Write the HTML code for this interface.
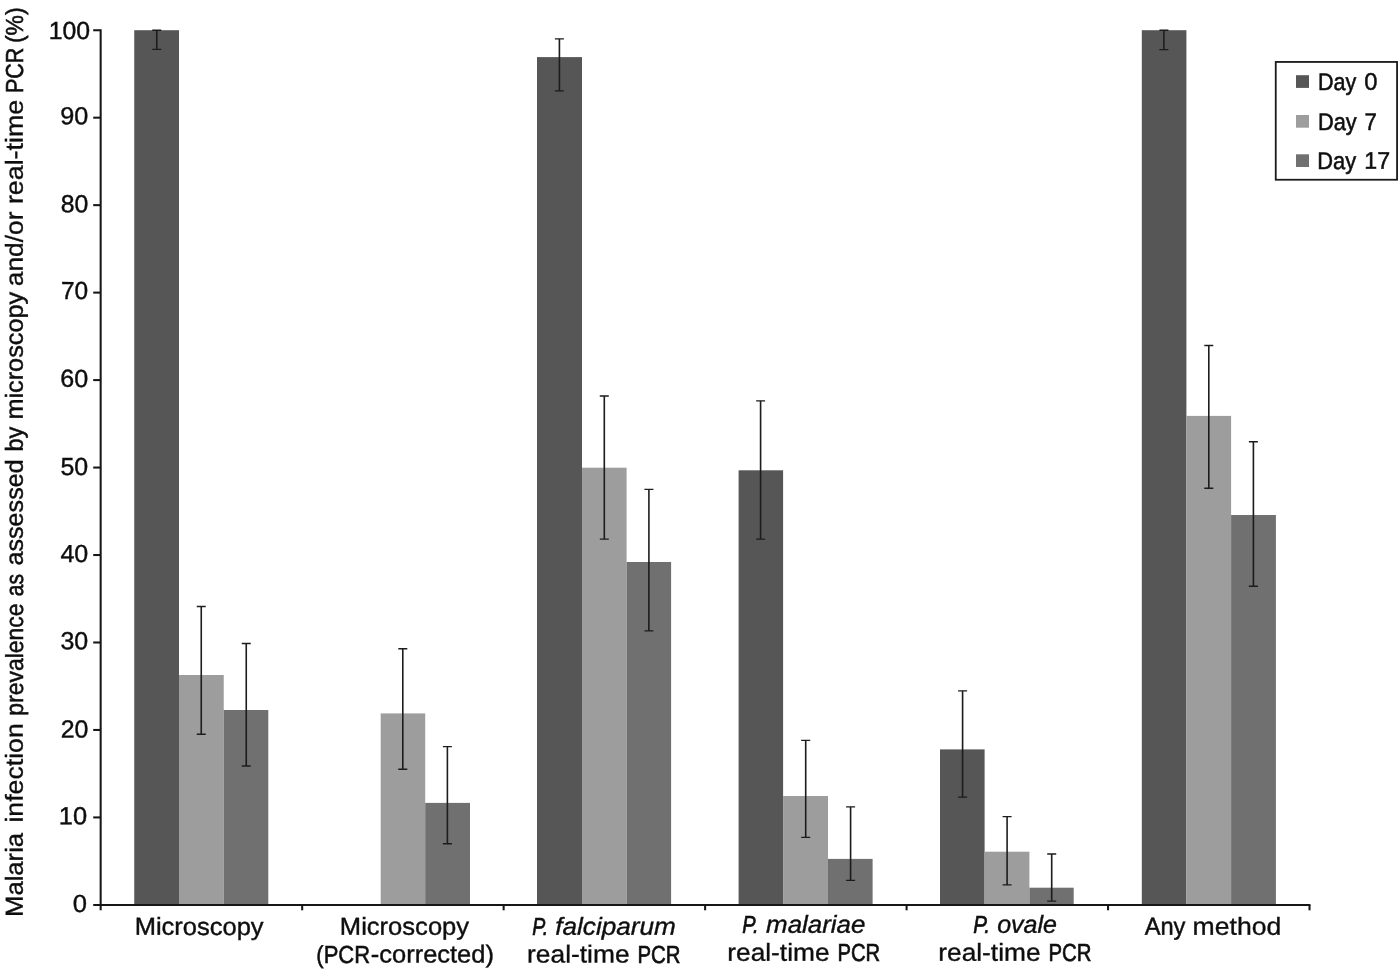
<!DOCTYPE html>
<html><head><meta charset="utf-8"><title>Chart</title>
<style>
html,body{margin:0;padding:0;background:#fff;}
body{width:1400px;height:969px;overflow:hidden;}
svg{display:block;}
text{font-family:"Liberation Sans",sans-serif;fill:#111;stroke:#111;text-rendering:geometricPrecision;}
</style></head><body>
<svg width="1400" height="969" viewBox="0 0 1400 969">
<defs><filter id="soft" x="-2%" y="-2%" width="104%" height="104%"><feGaussianBlur stdDeviation="0.45"/></filter></defs>
<rect x="0" y="0" width="1400" height="969" fill="#ffffff"/>
<g filter="url(#soft)">
<rect x="134.25" y="30.2" width="44.75" height="874.70" fill="#565656"/>
<rect x="179" y="675" width="44.75" height="229.90" fill="#9d9d9d"/>
<rect x="223.75" y="710" width="44.55" height="194.90" fill="#6f6f6f"/>
<rect x="380.7" y="713.4" width="44.50" height="191.50" fill="#9d9d9d"/>
<rect x="425.2" y="802.9" width="44.80" height="102.00" fill="#6f6f6f"/>
<rect x="537" y="57.1" width="45.00" height="847.80" fill="#565656"/>
<rect x="582" y="467.7" width="44.60" height="437.20" fill="#9d9d9d"/>
<rect x="626.6" y="562" width="44.50" height="342.90" fill="#6f6f6f"/>
<rect x="738.6" y="470.3" width="44.50" height="434.60" fill="#565656"/>
<rect x="783.1" y="796" width="44.90" height="108.90" fill="#9d9d9d"/>
<rect x="828" y="858.9" width="44.60" height="46.00" fill="#6f6f6f"/>
<rect x="940" y="749.4" width="44.60" height="155.50" fill="#565656"/>
<rect x="984.6" y="851.7" width="44.80" height="53.20" fill="#9d9d9d"/>
<rect x="1029.4" y="887.7" width="44.30" height="17.20" fill="#6f6f6f"/>
<rect x="1141.8" y="30.2" width="44.60" height="874.70" fill="#565656"/>
<rect x="1186.4" y="415.9" width="44.70" height="489.00" fill="#9d9d9d"/>
<rect x="1231.1" y="515" width="44.80" height="389.90" fill="#6f6f6f"/>
<g stroke="#161616" stroke-width="2.05" fill="none">
<path d="M93.2 30.2H100.65V910.3"/>
<line x1="93.2" y1="905.05" x2="1310.4" y2="905.05"/>
<line x1="93.2" y1="117.67" x2="100.65" y2="117.67"/>
<line x1="93.2" y1="205.14" x2="100.65" y2="205.14"/>
<line x1="93.2" y1="292.61" x2="100.65" y2="292.61"/>
<line x1="93.2" y1="380.08" x2="100.65" y2="380.08"/>
<line x1="93.2" y1="467.55" x2="100.65" y2="467.55"/>
<line x1="93.2" y1="555.02" x2="100.65" y2="555.02"/>
<line x1="93.2" y1="642.49" x2="100.65" y2="642.49"/>
<line x1="93.2" y1="729.96" x2="100.65" y2="729.96"/>
<line x1="93.2" y1="817.43" x2="100.65" y2="817.43"/>
<line x1="302.17" y1="905.05" x2="302.17" y2="910.3"/>
<line x1="503.64" y1="905.05" x2="503.64" y2="910.3"/>
<line x1="705.11" y1="905.05" x2="705.11" y2="910.3"/>
<line x1="906.58" y1="905.05" x2="906.58" y2="910.3"/>
<line x1="1108.05" y1="905.05" x2="1108.05" y2="910.3"/>
<line x1="1309.52" y1="905.05" x2="1309.52" y2="910.3"/>
</g>
<g stroke="#1c1c1c" stroke-width="1.35" fill="none">
<path d="M156.75 30.2V49.4" stroke-width="1.6"/><path d="M152.25 30.2H161.25M152.25 49.4H161.25"/>
<path d="M201.25 606.5V734.25" stroke-width="1.6"/><path d="M196.75 606.5H205.75M196.75 734.25H205.75"/>
<path d="M246.25 643.5V766" stroke-width="1.6"/><path d="M241.75 643.5H250.75M241.75 766H250.75"/>
<path d="M402.8 648.7V769.2" stroke-width="1.6"/><path d="M398.3 648.7H407.3M398.3 769.2H407.3"/>
<path d="M447.4 746.6V843.7" stroke-width="1.6"/><path d="M442.9 746.6H451.9M442.9 843.7H451.9"/>
<path d="M559.4 38.9V90.9" stroke-width="1.6"/><path d="M554.9 38.9H563.9M554.9 90.9H563.9"/>
<path d="M604.3 396V539.1" stroke-width="1.6"/><path d="M599.8 396H608.8M599.8 539.1H608.8"/>
<path d="M648.9 489.4V630.9" stroke-width="1.6"/><path d="M644.4 489.4H653.4M644.4 630.9H653.4"/>
<path d="M760.6 400.9V539.1" stroke-width="1.6"/><path d="M756.1 400.9H765.1M756.1 539.1H765.1"/>
<path d="M805.7 740.3V837.4" stroke-width="1.6"/><path d="M801.2 740.3H810.2M801.2 837.4H810.2"/>
<path d="M850.6 806.9V880.3" stroke-width="1.6"/><path d="M846.1 806.9H855.1M846.1 880.3H855.1"/>
<path d="M962.6 690.9V797.1" stroke-width="1.6"/><path d="M958.1 690.9H967.1M958.1 797.1H967.1"/>
<path d="M1007.1 816.6V884.9" stroke-width="1.6"/><path d="M1002.6 816.6H1011.6M1002.6 884.9H1011.6"/>
<path d="M1051.7 854V901.1" stroke-width="1.6"/><path d="M1047.2 854H1056.2M1047.2 901.1H1056.2"/>
<path d="M1163.9 30.2V49.6" stroke-width="1.6"/><path d="M1159.4 30.2H1168.4M1159.4 49.6H1168.4"/>
<path d="M1208.8 345.5V488.2" stroke-width="1.6"/><path d="M1204.3 345.5H1213.3M1204.3 488.2H1213.3"/>
<path d="M1253.4 441.7V586.2" stroke-width="1.6"/><path d="M1248.9 441.7H1257.9M1248.9 586.2H1257.9"/>
</g>
<rect x="1275.75" y="61.95" width="121.3" height="117.8" fill="#fff" stroke="#1a1a1a" stroke-width="1.8"/>
<rect x="1296" y="75.2" width="13" height="12.7" fill="#565656"/>
<rect x="1296" y="115" width="13" height="12.7" fill="#9d9d9d"/>
<rect x="1296" y="154.3" width="13" height="12.7" fill="#6f6f6f"/>
<text transform="translate(48.81,39.11) rotate(0.03)" font-size="24.6"><tspan x="0.00" y="0.00" stroke-width="0.46" textLength="41.31" lengthAdjust="spacingAndGlyphs">100</tspan></text>
<text transform="translate(60.26,124.25) rotate(0.03)" font-size="24.6"><tspan x="0.00" y="0.00" stroke-width="0.41" textLength="28.04" lengthAdjust="spacingAndGlyphs">90</tspan></text>
<text transform="translate(60.67,212.20) rotate(0.03)" font-size="24.6"><tspan x="0.00" y="0.00" stroke-width="0.43" textLength="27.57" lengthAdjust="spacingAndGlyphs">80</tspan></text>
<text transform="translate(60.95,299.03) rotate(0.03)" font-size="24.6"><tspan x="0.00" y="0.00" stroke-width="0.43" textLength="27.21" lengthAdjust="spacingAndGlyphs">70</tspan></text>
<text transform="translate(60.36,386.87) rotate(0.03)" font-size="24.6"><tspan x="0.00" y="0.00" stroke-width="0.43" textLength="27.93" lengthAdjust="spacingAndGlyphs">60</tspan></text>
<text transform="translate(60.45,474.94) rotate(0.03)" font-size="24.6"><tspan x="0.00" y="0.00" stroke-width="0.43" textLength="27.72" lengthAdjust="spacingAndGlyphs">50</tspan></text>
<text transform="translate(60.45,561.92) rotate(0.03)" font-size="24.6"><tspan x="0.00" y="0.00" stroke-width="0.41" textLength="27.83" lengthAdjust="spacingAndGlyphs">40</tspan></text>
<text transform="translate(60.47,649.22) rotate(0.03)" font-size="24.6"><tspan x="0.00" y="0.00" stroke-width="0.42" textLength="27.78" lengthAdjust="spacingAndGlyphs">30</tspan></text>
<text transform="translate(60.64,737.44) rotate(0.03)" font-size="24.6"><tspan x="0.00" y="0.00" stroke-width="0.43" textLength="27.67" lengthAdjust="spacingAndGlyphs">20</tspan></text>
<text transform="translate(58.84,824.24) rotate(0.03)" font-size="24.6"><tspan x="0.00" y="0.00" stroke-width="0.44" textLength="28.26" lengthAdjust="spacingAndGlyphs">10</tspan></text>
<text transform="translate(72.83,912.11) rotate(0.03)" font-size="24.6"><tspan x="0.00" y="0.00" stroke-width="0.39" textLength="14.22" lengthAdjust="spacingAndGlyphs">0</tspan></text>
<text transform="translate(134.65,934.85) rotate(0.03)" font-size="24.6"><tspan x="0.00" y="0.00" stroke-width="0.41" textLength="128.98" lengthAdjust="spacingAndGlyphs">Microscopy</tspan></text>
<text transform="translate(339.85,934.80) rotate(0.03)" font-size="24.6"><tspan x="0.00" y="0.00" stroke-width="0.4" textLength="129.25" lengthAdjust="spacingAndGlyphs">Microscopy</tspan></text>
<text transform="translate(316.31,962.50) rotate(0.03)" font-size="24.6"><tspan x="0.00" y="0.00" stroke-width="0.58" textLength="53.75" lengthAdjust="spacingAndGlyphs">(PCR</tspan> <tspan x="54.52" y="0.00" stroke-width="0.41" textLength="123.06" lengthAdjust="spacingAndGlyphs">-corrected)</tspan></text>
<text transform="translate(532.19,934.80) rotate(0.03)" font-size="24.6" font-style="italic"><tspan x="0.00" y="0.00" stroke-width="0.69" textLength="15.95" lengthAdjust="spacingAndGlyphs">P.</tspan> <tspan x="23.00" y="0.00" stroke-width="0.37" textLength="120.74" lengthAdjust="spacingAndGlyphs">falciparum</tspan></text>
<text transform="translate(527.06,962.50) rotate(0.03)" font-size="24.6"><tspan x="0.00" y="0.00" stroke-width="0.36" textLength="102.52" lengthAdjust="spacingAndGlyphs">real-time</tspan> <tspan x="110.37" y="0.00" stroke-width="0.67" textLength="42.96" lengthAdjust="spacingAndGlyphs">PCR</tspan></text>
<text transform="translate(742.18,932.80) rotate(0.03)" font-size="24.6" font-style="italic"><tspan x="0.00" y="0.00" stroke-width="0.67" textLength="16.33" lengthAdjust="spacingAndGlyphs">P.</tspan> <tspan x="23.89" y="0.00" stroke-width="0.39" textLength="99.32" lengthAdjust="spacingAndGlyphs">malariae</tspan></text>
<text transform="translate(727.27,960.70) rotate(0.03)" font-size="24.6"><tspan x="0.00" y="0.00" stroke-width="0.37" textLength="102.27" lengthAdjust="spacingAndGlyphs">real-time</tspan> <tspan x="110.15" y="0.00" stroke-width="0.66" textLength="42.65" lengthAdjust="spacingAndGlyphs">PCR</tspan></text>
<text transform="translate(973.27,932.80) rotate(0.03)" font-size="24.6" font-style="italic"><tspan x="0.00" y="0.00" stroke-width="0.65" textLength="16.81" lengthAdjust="spacingAndGlyphs">P.</tspan> <tspan x="23.86" y="0.00" stroke-width="0.42" textLength="59.77" lengthAdjust="spacingAndGlyphs">ovale</tspan></text>
<text transform="translate(938.27,960.70) rotate(0.03)" font-size="24.6"><tspan x="0.00" y="0.00" stroke-width="0.37" textLength="102.27" lengthAdjust="spacingAndGlyphs">real-time</tspan> <tspan x="110.16" y="0.00" stroke-width="0.67" textLength="42.96" lengthAdjust="spacingAndGlyphs">PCR</tspan></text>
<text transform="translate(1144.70,934.80) rotate(0.03)" font-size="24.6"><tspan x="0.00" y="0.00" stroke-width="0.49" textLength="40.74" lengthAdjust="spacingAndGlyphs">Any</tspan> <tspan x="47.91" y="0.00" stroke-width="0.35" textLength="88.78" lengthAdjust="spacingAndGlyphs">method</tspan></text>
<text transform="translate(1318.07,89.80) rotate(0.03)" font-size="24.0"><tspan x="0.00" y="0.00" stroke-width="0.57" textLength="38.31" lengthAdjust="spacingAndGlyphs">Day</tspan> <tspan x="46.11" y="0.00" stroke-width="0.48" textLength="13.21" lengthAdjust="spacingAndGlyphs">0</tspan></text>
<text transform="translate(1317.95,129.60) rotate(0.03)" font-size="24.0"><tspan x="0.00" y="0.00" stroke-width="0.58" textLength="38.72" lengthAdjust="spacingAndGlyphs">Day</tspan> <tspan x="46.61" y="0.00" stroke-width="0.54" textLength="12.36" lengthAdjust="spacingAndGlyphs">7</tspan></text>
<text transform="translate(1317.29,168.70) rotate(0.03)" font-size="24.0"><tspan x="0.00" y="0.00" stroke-width="0.56" textLength="38.87" lengthAdjust="spacingAndGlyphs">Day</tspan> <tspan x="46.96" y="0.00" stroke-width="0.5" textLength="25.79" lengthAdjust="spacingAndGlyphs">17</tspan></text>
<g><text transform="translate(22.75,916.93) rotate(-89.97)" font-size="24.6" stroke-width="0.39" textLength="84.03" lengthAdjust="spacingAndGlyphs">Malaria</text> <text transform="translate(22.75,822.55) rotate(-89.97)" font-size="24.6" stroke-width="0.35" textLength="99.33" lengthAdjust="spacingAndGlyphs">infection</text> <text transform="translate(22.75,715.63) rotate(-89.97)" font-size="24.6" stroke-width="0.53" textLength="112.21" lengthAdjust="spacingAndGlyphs">prevalence</text> <text transform="translate(22.75,596.24) rotate(-89.97)" font-size="24.6" stroke-width="0.63" textLength="22.26" lengthAdjust="spacingAndGlyphs">as</text> <text transform="translate(22.75,565.51) rotate(-89.97)" font-size="24.6" stroke-width="0.43" textLength="106.17" lengthAdjust="spacingAndGlyphs">assessed</text> <text transform="translate(22.75,451.58) rotate(-89.97)" font-size="24.6" stroke-width="0.5" textLength="24.76" lengthAdjust="spacingAndGlyphs">by</text> <text transform="translate(22.75,419.62) rotate(-89.97)" font-size="24.6" stroke-width="0.42" textLength="127.81" lengthAdjust="spacingAndGlyphs">microscopy</text> <text transform="translate(22.75,286.19) rotate(-89.97)" font-size="24.6" stroke-width="0.36" textLength="74.69" lengthAdjust="spacingAndGlyphs">and/or</text> <text transform="translate(22.75,204.09) rotate(-89.97)" font-size="24.6" stroke-width="0.34" textLength="104.21" lengthAdjust="spacingAndGlyphs">real-time</text> <text transform="translate(22.75,93.04) rotate(-89.97)" font-size="24.6" stroke-width="0.61" textLength="45.30" lengthAdjust="spacingAndGlyphs">PCR</text> <text transform="translate(22.75,43.11) rotate(-89.97)" font-size="24.6" stroke-width="0.53" textLength="35.67" lengthAdjust="spacingAndGlyphs">(%)</text> </g>
</g>
</svg>
</body></html>
